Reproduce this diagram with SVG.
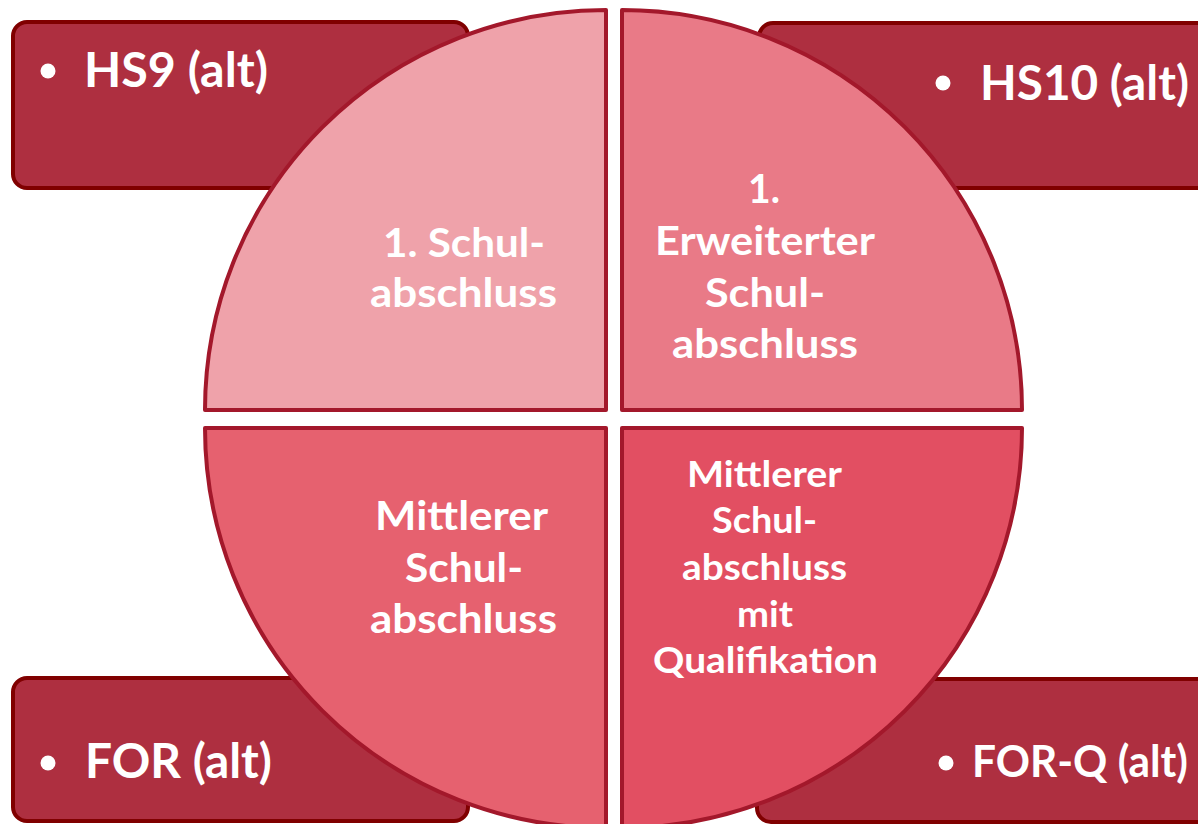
<svg xmlns="http://www.w3.org/2000/svg" width="1198" height="824" viewBox="0 0 1198 824">
  <style>
    .box { fill: #AE2F40; stroke: #800000; stroke-width: 4; }
    .q { stroke: #A3182B; stroke-width: 4; stroke-linejoin: round; }
    .bt { font-family: Lato, "Liberation Sans", sans-serif; font-weight: bold; font-size: 47px; fill: #FFFFFF; }
    .qt { font-family: Lato, "Liberation Sans", sans-serif; font-weight: bold; font-size: 41px; fill: #FFFFFF; text-anchor: middle; }
    .qs { font-size: 36px; }
    .dot { fill: #FFFFFF; }
  </style>
  <rect width="1198" height="824" fill="#FFFFFF"/>
  <g id="box-hs9">
    <rect class="box" x="13" y="22" width="455" height="166" rx="14"/>
    <circle class="dot" cx="48" cy="71" r="7.5"/>
    <text class="bt" x="84" y="87" textLength="184" lengthAdjust="spacingAndGlyphs">HS9 (alt)</text>
  </g>
  <g id="box-hs10">
    <rect class="box" x="759" y="23" width="470" height="165" rx="14"/>
    <circle class="dot" cx="943" cy="83" r="7.5"/>
    <text class="bt" x="980" y="100" textLength="209" lengthAdjust="spacingAndGlyphs">HS10 (alt)</text>
  </g>
  <g id="box-for">
    <rect class="box" x="13" y="678" width="455" height="143" rx="14"/>
    <circle class="dot" cx="48" cy="763" r="7.5"/>
    <text class="bt" x="85" y="778" textLength="187" lengthAdjust="spacingAndGlyphs">FOR (alt)</text>
  </g>
  <g id="box-forq">
    <rect class="box" x="757" y="679" width="470" height="143" rx="14"/>
    <circle class="dot" cx="946" cy="763" r="7.5"/>
    <text class="bt" x="972" y="777" style="font-size:43px" textLength="216" lengthAdjust="spacingAndGlyphs">FOR-Q (alt)</text>
  </g>
  <g id="q-tl">
    <path class="q" fill="#EFA2AA" d="M606,410 L205,410 A401,400 0 0 1 606,10 Z"/>
    <text class="qt" x="464" y="257" textLength="162" lengthAdjust="spacingAndGlyphs">1. Schul-</text>
    <text class="qt" x="463.5" y="307" textLength="187" lengthAdjust="spacingAndGlyphs">abschluss</text>
  </g>
  <g id="q-tr">
    <path class="q" fill="#E97A87" d="M622,410 L622,10 A400,400 0 0 1 1022,410 Z"/>
    <text class="qt" x="764" y="203" textLength="32" lengthAdjust="spacingAndGlyphs">1.</text>
    <text class="qt" x="765" y="255" textLength="220" lengthAdjust="spacingAndGlyphs">Erweiterter</text>
    <text class="qt" x="765" y="307" textLength="120" lengthAdjust="spacingAndGlyphs">Schul-</text>
    <text class="qt" x="765" y="358" textLength="186" lengthAdjust="spacingAndGlyphs">abschluss</text>
  </g>
  <g id="q-bl">
    <path class="q" fill="#E6616F" d="M606,428 L606,828 A401,400 0 0 1 205,428 Z"/>
    <text class="qt" x="461.5" y="530" textLength="173" lengthAdjust="spacingAndGlyphs">Mittlerer</text>
    <text class="qt" x="464" y="582" textLength="118" lengthAdjust="spacingAndGlyphs">Schul-</text>
    <text class="qt" x="463.5" y="633" textLength="187" lengthAdjust="spacingAndGlyphs">abschluss</text>
  </g>
  <g id="q-br">
    <path class="q" fill="#E24F62" d="M622,428 L1022,428 A400,400 0 0 1 622,828 Z"/>
    <text class="qt qs" x="764.5" y="487" textLength="155" lengthAdjust="spacingAndGlyphs">Mittlerer</text>
    <text class="qt qs" x="764.5" y="533" textLength="105" lengthAdjust="spacingAndGlyphs">Schul-</text>
    <text class="qt qs" x="764.5" y="580" textLength="165" lengthAdjust="spacingAndGlyphs">abschluss</text>
    <text class="qt qs" x="765" y="627" textLength="56" lengthAdjust="spacingAndGlyphs">mit</text>
    <text class="qt qs" x="765.5" y="673" textLength="225" lengthAdjust="spacingAndGlyphs">Qualifikation</text>
  </g>
  <g id="connectors"/>
</svg>
